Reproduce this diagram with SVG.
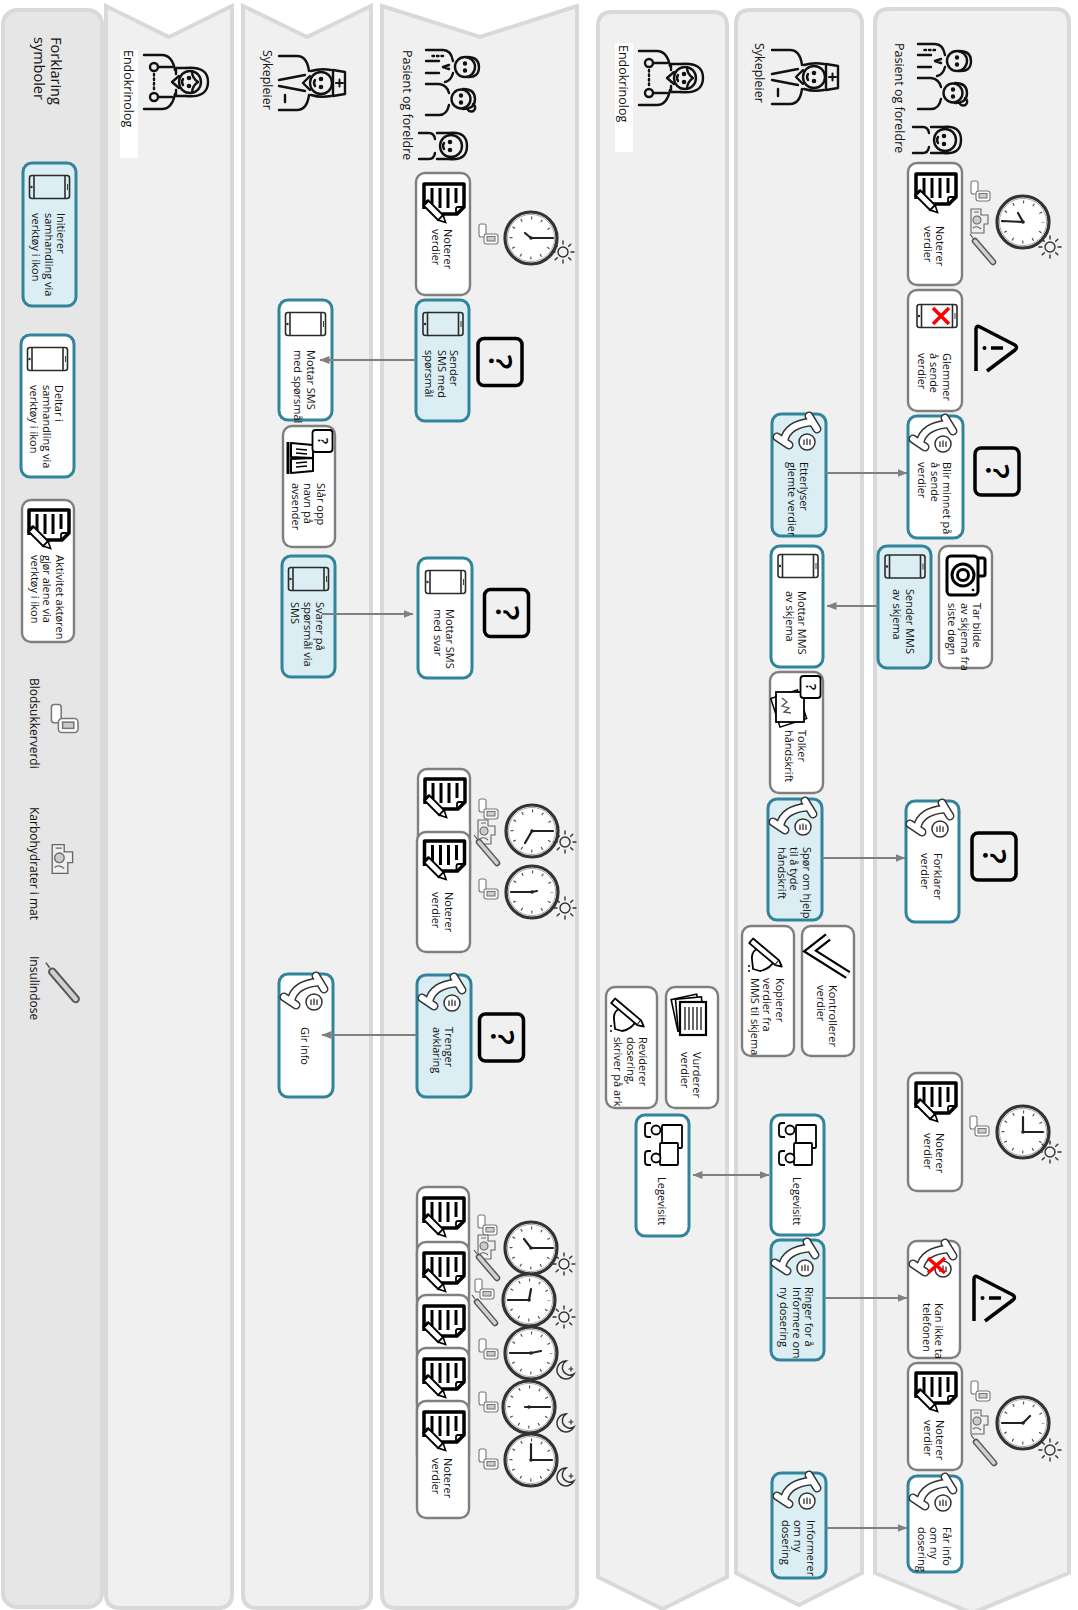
<svg xmlns="http://www.w3.org/2000/svg" width="1078" height="1610" viewBox="0 0 1078 1610">
<style>
  .lane{fill:#f0f0f0;stroke:#d9d9d9;stroke-width:4}
  .leg{fill:#e6e6e6;stroke:#d9d9d9;stroke-width:4}
  .box{fill:#fff;stroke:#7f7f7f;stroke-width:2.4}
  .part{fill:#fff;stroke:#31849b;stroke-width:3}
  .init{fill:#daeef3;stroke:#31849b;stroke-width:3}
  .t{font-family:"Open Sans","Liberation Sans",sans-serif;font-size:11px;fill:#111}
  .hd{font-family:"Open Sans","Liberation Sans",sans-serif;font-size:12.5px;fill:#111}
  .ttl{font-family:"Open Sans","Liberation Sans",sans-serif;font-size:14.5px;fill:#111}
  .lg{font-family:"Open Sans","Liberation Sans",sans-serif;font-size:12px;fill:#111}
  .qm{font-family:"Open Sans","Liberation Sans",sans-serif;font-weight:600;fill:#000;text-anchor:middle}
  .conn{fill:none;stroke:#808080;stroke-width:2}
  .ln{fill:none;stroke:#111;stroke-width:2.4;stroke-linecap:round;stroke-linejoin:round}
  .hand{fill:none;stroke:#222;stroke-width:2.2;stroke-linecap:round}
</style>
<defs>
  <marker id="ah" viewBox="0 0 10 10" refX="9.5" refY="5" markerWidth="10" markerHeight="10" markerUnits="userSpaceOnUse" orient="auto-start-reverse">
    <path d="M0,1 L10,5 L0,9 Z" fill="#808080"/>
  </marker>

  <!-- smartphone, lying on its side -->
  <g id="i-phone" fill="none" stroke="#2b2b2b" stroke-width="1.6">
    <rect x="-20" y="-11.5" width="40" height="23" rx="2.5"/>
    <path d="M-15.5,-11.5V11.5M15.5,-11.5V11.5"/>
    <circle cx="-18" cy="0" r="1.2" fill="#2b2b2b" stroke="none"/>
    <path d="M18,-3V3" stroke-width="0.9"/>
  </g>

  <!-- note sheet with pencil -->
  <g id="i-note">
    <path d="M-19,6 V-19 H21 V4 L14,11 H-2" fill="#fff" stroke="#000" stroke-width="3.5" stroke-linejoin="round"/>
    <path d="M21,4 H15 Q13,4 13,6 V11" fill="none" stroke="#000" stroke-width="1.8"/>
    <path d="M-11,-15V1M-3,-15V5M5,-15V5M13,-15V0" stroke="#000" stroke-width="3"/>
    <g transform="translate(-8,9) rotate(45)">
      <rect x="-13" y="-3.5" width="21" height="7" fill="#fff" stroke="#000" stroke-width="2"/>
      <path d="M8,-3.5 L15,0 L8,3.5Z" fill="#fff" stroke="#000" stroke-width="1.6"/>
      <path d="M-13,-3.5v7" stroke="#000" stroke-width="3"/>
    </g>
  </g>

  <!-- telephone handset with speech bubble -->
  <g id="i-handset">
    <path d="M-15,6 Q-12,-11 13,-13 M10,-19 L18,-6 M-22,2 L-10,10" fill="none" stroke="#333" stroke-width="9" stroke-linecap="round"/>
    <path d="M-15,6 Q-12,-11 13,-13 M10,-19 L18,-6 M-22,2 L-10,10" fill="none" stroke="#fff" stroke-width="6" stroke-linecap="round"/>
    <circle cx="8" cy="7" r="8" fill="#fff" stroke="#333" stroke-width="1.5"/>
    <path d="M5,4.5V10M8,3.5V10M11,4.5V10" stroke="#333" stroke-width="1.3"/>
  </g>

  <g id="i-phoneX">
    <use href="#i-phone"/>
    <path d="M-4,-8 L12,8 M12,-8 L-4,8" stroke="#f00" stroke-width="3.5"/>
  </g>
  <g id="i-handsetX">
    <use href="#i-handset"/>
    <path d="M-7,-4 L10,11 M10,-4 L-7,11" stroke="#f00" stroke-width="3.5"/>
  </g>

  <!-- question box -->
  <g id="i-q">
    <rect x="-22" y="-23.5" width="44" height="47" rx="6" fill="none" stroke="#000" stroke-width="3.5"/>
    <text class="qm" transform="rotate(90)" x="0" y="11" font-size="32">?</text>
  </g>
  <g id="i-qs">
    <rect x="-10" y="-11" width="20" height="22" rx="3" fill="#fff" stroke="#000" stroke-width="1.8"/>
    <text class="qm" transform="rotate(90)" x="0" y="5" font-size="14">?</text>
  </g>

  <!-- warning triangle, origin at its top-left corner -->
  <g id="i-warn" fill="none" stroke="#000" stroke-width="3.5" stroke-linejoin="round">
    <path d="M1,46 V4 Q1,0 5,2 L40,20 Q43,22.5 40,25 L12,46"/>
    <path d="M16,23 H28"/>
    <circle cx="9.5" cy="23" r="2" fill="#000" stroke="none"/>
  </g>

  <!-- clock face -->
  <g id="i-clock">
    <circle r="26" fill="#fff" stroke="#333" stroke-width="3.2"/>
    <circle r="23.6" fill="none" stroke="#aaa" stroke-width="1"/>
    <circle r="20" fill="none" stroke="#555" stroke-width="3" stroke-dasharray="1.2 9.272" stroke-dashoffset="0.6"/>
    <circle r="1.8" fill="#222"/>
  </g>
  <g id="i-sun" fill="none" stroke="#333" stroke-width="1.4" stroke-linecap="round">
    <circle r="5"/>
    <path d="M0,-8V-11M0,8V11M-8,0H-11M8,0H11M5.7,-5.7L7.8,-7.8M-5.7,5.7L-7.8,7.8M5.7,5.7L7.8,7.8M-5.7,-5.7L-7.8,-7.8"/>
  </g>
  <g id="i-moon" fill="none" stroke="#333" stroke-width="1.5">
    <path d="M2,-9 A9,9 0 1 0 10,4 A7,7 0 0 1 2,-9 Z"/>
    <path d="M7,-3.5V1.5M4.5,-1H9.5" stroke-width="1.2"/>
  </g>

  <!-- small measurement symbols -->
  <g id="i-bs" stroke="#777" stroke-width="1.1" fill="#fff">
    <rect x="-9" y="-11" width="7" height="13" rx="2"/>
    <rect x="-4" y="-1" width="14" height="10" rx="2.5"/>
    <rect x="-1" y="1.5" width="8" height="4.5" fill="#ccc"/>
  </g>
  <g id="i-fd" stroke="#666" stroke-width="1.1">
    <path d="M-9,-12 H1 V-6 H8 V3 H4 V12 H-9 Z" fill="#eee"/>
    <circle cx="-3" cy="-1" r="4" fill="#ccc"/>
    <path d="M-7,7 Q-3,4 1,8 M-6,-9 H-1" fill="none"/>
  </g>
  <g id="i-ins">
    <path d="M-9,-11 L9,10" stroke="#555" stroke-width="6.5" stroke-linecap="round"/>
    <path d="M-9,-11 L9,10" stroke="#d0d0d0" stroke-width="3.5" stroke-linecap="round"/>
    <path d="M-11,-14 L-14,-18" stroke="#555" stroke-width="1.2"/>
  </g>

  <!-- activity symbols -->
  <g id="i-book" fill="#fff" stroke="#000" stroke-width="2" stroke-linejoin="round">
    <path d="M-11,-1 L-11,-15 L11,-13 L11,0 Z"/>
    <path d="M-11,1 L-11,15 L11,13 L11,0 Z"/>
    <path d="M-6,-9 L5,-8 M-6,-5 L5,-4 M-6,5 L5,4 M-6,9 L5,8" stroke-width="1.5"/>
    <path d="M-14,-16 V16" stroke-width="3"/>
  </g>
  <g id="i-sheets">
    <rect x="-16" y="-13" width="28" height="30" fill="#fff" stroke="#000" stroke-width="1.5" transform="rotate(-18)"/>
    <rect x="-14" y="-14" width="28" height="30" fill="#fff" stroke="#000" stroke-width="1.8"/>
    <path d="M-8,-8 l5,4 l-5,4 l7,2 l-5,4 l7,1" fill="none" stroke="#555" stroke-width="1.3"/>
  </g>
  <g id="i-camera" fill="none" stroke="#000" stroke-width="3" stroke-linejoin="round">
    <rect x="-19" y="-20" width="31" height="39" rx="4"/>
    <path d="M12,-18 H17 Q19,-18 19,-16 V-2 Q19,0 17,0 H12"/>
    <circle cx="-3" cy="-1" r="11"/>
    <circle cx="-3" cy="-1" r="5.5"/>
    <circle cx="7" cy="14" r="1.3" fill="#000" stroke="none"/>
  </g>
  <g id="i-check" fill="none">
    <path d="M0,-19 L-18,-5 L20,19" stroke="#000" stroke-width="9"/>
    <path d="M0,-19 L-18,-5 L20,19" stroke="#fff" stroke-width="4.5"/>
  </g>
  <g id="i-handpen" fill="#fff" stroke="#000" stroke-width="1.8" stroke-linejoin="round">
    <path d="M-16,4 Q-17,-4 -9,-7 L-1,-3 L6,6 Q2,14 -8,16 L-15,14 Z"/>
    <g transform="rotate(40)"><rect x="-22" y="-3" width="34" height="6"/><path d="M12,-3 L18,0 L12,3"/></g>
    <path d="M-19,10 v2 M-19,15 v2" stroke-width="1.5"/>
  </g>
  <g id="i-stack" fill="#fff" stroke="#000" stroke-width="1.6">
    <rect x="-15" y="-20" width="26" height="32" transform="rotate(-12)"/>
    <rect x="-13" y="-18" width="26" height="32" transform="rotate(-5)"/>
    <rect x="-10" y="-14" width="26" height="33" stroke-width="2.2"/>
    <path d="M-5,-9V14M-1,-9V14M3,-9V14M7,-9V14M11,-9V14" stroke-width="1.2"/>
  </g>
  <g id="i-meet" fill="#fff" stroke="#000" stroke-width="1.8" stroke-linejoin="round">
    <rect x="-1" y="-20" width="20" height="23" rx="1"/>
    <rect x="-3" y="-2" width="18" height="22" rx="1"/>
    <circle cx="-7" cy="-15" r="4.5"/>
    <path d="M-12,-22 H-15 Q-18,-22 -18,-19 V-11 Q-18,-8 -15,-8 H-12" fill="none"/>
    <circle cx="-7" cy="13" r="4.5"/>
    <path d="M-12,6 H-15 Q-18,6 -18,9 V17 Q-18,20 -15,20 H-12" fill="none"/>
  </g>

  <!-- role figures (upright; placed turned) -->
  <g id="i-doctor" class="ln">
    <path d="M-14,-8 Q-16,-30 0,-30 Q16,-30 14,-8"/>
    <circle cx="0" cy="-12" r="11"/>
    <path d="M-11,-14 Q-4,-14 0,-20 Q4,-14 11,-14"/>
    <path d="M-14,-8 V2 H-8 M14,-8 V2 H8"/>
    <circle cx="-4" cy="-11" r="1.1" fill="#111"/><circle cx="4" cy="-11" r="1.1" fill="#111"/>
    <path d="M-3,-5 Q0,-3 3,-5"/>
    <path d="M-6,-1 L0,6 L6,-1"/>
    <path d="M-27,34 V16 Q-27,6 -12,3 M27,34 V16 Q27,6 12,3"/>
    <path d="M-15,6 V20 M15,6 V20"/>
    <circle cx="-15" cy="24" r="4"/><circle cx="15" cy="24" r="4"/>
    <path d="M-8,24 H8" stroke-dasharray="1.5 3"/>
  </g>
  <g id="i-nurse" class="ln">
    <path d="M-13,-20 L-11,-32 H11 L13,-20 Z"/>
    <path d="M0,-30 V-23 M-3.5,-26.5 H3.5" stroke-width="2"/>
    <circle cx="0" cy="-8" r="11"/>
    <path d="M-13,-18 Q-15,-8 -12,2 M13,-18 Q15,-8 12,2"/>
    <circle cx="-4" cy="-8" r="1.1" fill="#111"/><circle cx="4" cy="-8" r="1.1" fill="#111"/>
    <path d="M-3,-2 Q0,0 3,-2"/>
    <path d="M-7,3 L0,10 L7,3"/>
    <path d="M-27,34 V16 Q-27,6 -12,4 M27,34 V16 Q27,6 12,4"/>
    <path d="M-8,8 L-3,34 M8,8 L3,34"/>
    <path d="M12,28 H19"/>
  </g>
  <g id="i-family" class="ln">
    <circle cx="-16" cy="-12" r="10"/>
    <path d="M-26,-14 Q-26,-26 -16,-26 Q-5,-26 -6,-14"/>
    <circle cx="-19.5" cy="-12" r="1" fill="#111"/><circle cx="-12.5" cy="-12" r="1" fill="#111"/>
    <circle cx="16" cy="-8" r="9.5"/>
    <path d="M6,-10 Q6,-22 16,-22 Q26,-22 26,-10 M21,-20 a4,4 0 1 1 6,5"/>
    <circle cx="12.5" cy="-8" r="1" fill="#111"/><circle cx="19.5" cy="-8" r="1" fill="#111"/>
    <path d="M-33,27 V10 Q-33,2 -22,0 M-10,0 Q-2,2 -1,8"/>
    <path d="M1,27 V14 Q2,6 10,4 M22,4 Q32,6 32,14 V27"/>
    <path d="M-22,27 V14 M-10,27 V14 M-18,4 L-16,10 L-14,4"/>
    <path d="M-27,10 V22" stroke-dasharray="1.5 3"/>
  </g>
  <g id="i-child" class="ln">
    <circle cx="0" cy="-6" r="11"/>
    <path d="M-13,-4 Q-15,-22 0,-22 Q15,-22 13,-4 V8 M-13,-4 V8"/>
    <circle cx="-4" cy="-5" r="1.1" fill="#111"/><circle cx="4" cy="-5" r="1.1" fill="#111"/>
    <path d="M-3,1 Q0,3 3,1"/>
    <path d="M-13,26 V16 Q-13,11 -7,10 M13,26 V16 Q13,11 7,10"/>
  </g>
</defs>

<rect width="1078" height="1610" fill="#fff"/>

<!-- swimlanes -->
<g id="lanes">
  <rect class="leg" x="3" y="10" width="99" height="1597" rx="14"/>
  <path class="lane" d="M106,6 L169,37 L232,6 V1594 Q232,1608 218,1608 H120 Q106,1608 106,1594 Z"/>
  <path class="lane" d="M243,6 L307,37 L371,6 V1594 Q371,1608 357,1608 H257 Q243,1608 243,1594 Z"/>
  <path class="lane" d="M382,6 L480,37 L577,6 V1594 Q577,1608 563,1608 H396 Q382,1608 382,1594 Z"/>
  <path class="lane" d="M598,26 Q598,12 612,12 H713 Q727,12 727,26 V1577 L662.5,1609 L598,1577 Z"/>
  <path class="lane" d="M736,24 Q736,10 750,10 H848 Q862,10 862,24 V1573 L799,1605 L736,1573 Z"/>
  <path class="lane" d="M875,23 Q875,9 889,9 H1055 Q1069,9 1069,23 V1573 L972,1613 L875,1573 Z"/>
</g>

<!-- lane headers -->
<g id="headers">
  <text class="ttl" transform="translate(51,37) rotate(90)">Forklaring</text>
  <text class="ttl" transform="translate(34,37) rotate(90)">symboler</text>

  <rect x="120" y="50" width="18" height="108" fill="#fff"/>
  <text class="hd" transform="translate(124,50) rotate(90)">Endokrinolog</text>
  <use href="#i-doctor" transform="translate(178,82) rotate(90)"/>

  <text class="hd" transform="translate(263,50) rotate(90)">Sykepleier</text>
  <use href="#i-nurse" transform="translate(313,83) rotate(90)"/>

  <text class="hd" transform="translate(403,50) rotate(90)">Pasient og foreldre</text>
  <use href="#i-family" transform="translate(453,83) rotate(90)"/>
  <use href="#i-child" transform="translate(445,146) rotate(90)"/>

  <rect x="615" y="43" width="18" height="109" fill="#fff"/>
  <text class="hd" transform="translate(619,45) rotate(90)">Endokrinolog</text>
  <use href="#i-doctor" transform="translate(673,78) rotate(90)"/>

  <text class="hd" transform="translate(755,43) rotate(90)">Sykepleier</text>
  <use href="#i-nurse" transform="translate(806,77) rotate(90)"/>

  <text class="hd" transform="translate(895,43) rotate(90)">Pasient og foreldre</text>
  <use href="#i-family" transform="translate(945,77) rotate(90)"/>
  <use href="#i-child" transform="translate(939,140) rotate(90)"/>
</g>

<!-- legend -->
<g id="legend">
  <g id="leg-init">
    <g transform="translate(49.5,163) rotate(90)">
      <rect class="init" x="0" y="-26.5" width="143" height="53" rx="9"/>
      <text class="t"><tspan x="50" y="-7.5">Initierer</tspan><tspan x="50" y="5">samhandling via</tspan><tspan x="50" y="17.5">verktøy i ikon</tspan></text>
    </g>
    <use href="#i-phone" x="49.5" y="187"/>
  </g>
  <g id="leg-part">
    <g transform="translate(47.5,335) rotate(90)">
      <rect class="part" x="0" y="-26.5" width="142" height="53" rx="9"/>
      <text class="t"><tspan x="50" y="-7.5">Deltar i</tspan><tspan x="50" y="5">samhandling via</tspan><tspan x="50" y="17.5">verktøy i ikon</tspan></text>
    </g>
    <use href="#i-phone" x="47.5" y="359"/>
  </g>
  <g id="leg-alone">
    <g transform="translate(48,500) rotate(90)">
      <rect class="box" x="0" y="-26" width="142" height="52" rx="9"/>
      <text class="t"><tspan x="55" y="-7.5">Aktivitet aktøren</tspan><tspan x="55" y="5">gjør alene via</tspan><tspan x="55" y="17.5">verktøy i ikon</tspan></text>
    </g>
    <use href="#i-note" x="48" y="529"/>
  </g>
  <g id="leg-bs">
    <text class="lg" transform="translate(30,678) rotate(90)">Blodsukkerverdi</text>
    <use href="#i-bs" transform="translate(64,720) scale(1.4)"/>
  </g>
  <g id="leg-fd">
    <text class="lg" transform="translate(30,807) rotate(90)">Karbohydrater i mat</text>
    <use href="#i-fd" transform="translate(63,859) scale(1.2)"/>
  </g>
  <g id="leg-ins">
    <text class="lg" transform="translate(30,956) rotate(90)">Insulindose</text>
    <use href="#i-ins" transform="translate(64,986) scale(1.3)"/>
  </g>
</g>

<!-- nurse, first phase -->
<g id="n-mottar-sms">
  <g transform="translate(305.5,300) rotate(90)">
    <rect class="part" x="0" y="-26.5" width="120" height="53" rx="9"/>
    <text class="t"><tspan x="50" y="-1.25">Mottar SMS</tspan><tspan x="50" y="11.25">med spørsmål</tspan></text>
  </g>
  <use href="#i-phone" x="305.5" y="324"/>
</g>
<g id="n-slar-opp">
  <g transform="translate(309,426) rotate(90)">
    <rect class="box" x="0" y="-26" width="121" height="52" rx="9"/>
    <text class="t"><tspan x="57" y="-7.5">Slår opp</tspan><tspan x="57" y="5">navn på</tspan><tspan x="57" y="17.5">avsender</tspan></text>
  </g>
  <use href="#i-book" x="302" y="458"/>
  <use href="#i-qs" x="322.5" y="441"/>
</g>
<g id="n-svarer">
  <g transform="translate(308.5,556) rotate(90)">
    <rect class="init" x="0" y="-26.5" width="121" height="53" rx="9"/>
    <text class="t"><tspan x="46" y="-7.5">Svarer på</tspan><tspan x="46" y="5">spørsmål via</tspan><tspan x="46" y="17.5">SMS</tspan></text>
  </g>
  <use href="#i-phone" x="308.5" y="579"/>
</g>
<g id="n-gir-info">
  <g transform="translate(306,974) rotate(90)">
    <rect class="part" x="0" y="-27" width="123" height="54" rx="9"/>
    <text class="t"><tspan x="53" y="5">Gir info</tspan></text>
  </g>
  <use href="#i-handset" x="306" y="995"/>
</g>

<!-- patient, first phase -->
<g id="n-noterer-1">
  <g transform="translate(443,173) rotate(90)">
    <rect class="box" x="0" y="-27" width="122" height="54" rx="9"/>
    <text class="t"><tspan x="56" y="-1.25">Noterer</tspan><tspan x="56" y="11.25">verdier</tspan></text>
  </g>
  <use href="#i-note" x="443" y="203"/>
  <use href="#i-bs" x="488" y="235"/>
  <g transform="translate(531,238)"><use href="#i-clock"/><path class="hand" d="M0,0H22M0,0L-6,-5"/></g>
  <use href="#i-sun" x="563" y="252"/>
</g>
<g id="n-sender-sms">
  <g transform="translate(442.5,300) rotate(90)">
    <rect class="init" x="0" y="-26.5" width="121" height="53" rx="9"/>
    <text class="t"><tspan x="50" y="-7.5">Sender</tspan><tspan x="50" y="5">SMS med</tspan><tspan x="50" y="17.5">spørsmål</tspan></text>
  </g>
  <use href="#i-phone" x="443" y="324"/>
  <use href="#i-q" x="500" y="362"/>
</g>
<g id="n-mottar-svar">
  <g transform="translate(445,558) rotate(90)">
    <rect class="part" x="0" y="-27" width="120" height="54" rx="9"/>
    <text class="t"><tspan x="51" y="-1.25">Mottar SMS</tspan><tspan x="51" y="11.25">med svar</tspan></text>
  </g>
  <use href="#i-phone" x="445.5" y="582"/>
  <use href="#i-q" x="506.5" y="613"/>
</g>
<g id="n-noterer-2a">
  <g transform="translate(444,769) rotate(90)">
    <rect class="box" x="0" y="-26" width="120" height="52" rx="9"/>
  </g>
  <use href="#i-note" x="444" y="798"/>
  <use href="#i-bs" x="488" y="810"/>
  <use href="#i-fd" x="487" y="832"/>
  <use href="#i-ins" x="488" y="853"/>
  <g transform="translate(532,831)"><use href="#i-clock"/><path class="hand" d="M0,0H21M0,0L-7,12"/></g>
  <use href="#i-sun" x="565" y="842"/>
</g>
<g id="n-noterer-2b">
  <g transform="translate(443.5,832) rotate(90)">
    <rect class="box" x="0" y="-26.5" width="120" height="53" rx="9"/>
    <text class="t"><tspan x="60" y="-1.25">Noterer</tspan><tspan x="60" y="11.25">verdier</tspan></text>
  </g>
  <use href="#i-note" x="443.5" y="860"/>
  <use href="#i-bs" x="488" y="890"/>
  <g transform="translate(532,892)"><use href="#i-clock"/><path class="hand" d="M0,0H-21M0,0L5,-1"/></g>
  <use href="#i-sun" x="565" y="908"/>
</g>
<g id="n-trenger">
  <g transform="translate(444,975) rotate(90)">
    <rect class="init" x="0" y="-27" width="122" height="54" rx="9"/>
    <text class="t"><tspan x="52" y="-1.25">Trenger</tspan><tspan x="52" y="11.25">avklaring</tspan></text>
  </g>
  <use href="#i-handset" x="444" y="996"/>
  <use href="#i-q" x="501.5" y="1037.5"/>
</g>

<!-- patient, day log -->
<g id="n-noterer-3">
  <g transform="translate(443,1187) rotate(90)"><rect class="box" x="0" y="-26" width="117" height="52" rx="9"/></g>
  <use href="#i-note" x="443" y="1217"/>
  <g transform="translate(443,1242) rotate(90)"><rect class="box" x="0" y="-26" width="117" height="52" rx="9"/></g>
  <use href="#i-note" x="443" y="1272"/>
  <g transform="translate(443,1295) rotate(90)"><rect class="box" x="0" y="-26" width="117" height="52" rx="9"/></g>
  <use href="#i-note" x="443" y="1325"/>
  <g transform="translate(443,1348) rotate(90)"><rect class="box" x="0" y="-26" width="117" height="52" rx="9"/></g>
  <use href="#i-note" x="443" y="1378"/>
  <g transform="translate(443,1401) rotate(90)">
    <rect class="box" x="0" y="-26" width="117" height="52" rx="9"/>
    <text class="t"><tspan x="57" y="-1.25">Noterer</tspan><tspan x="57" y="11.25">verdier</tspan></text>
  </g>
  <use href="#i-note" x="443" y="1431"/>

  <use href="#i-bs" x="487" y="1226"/>
  <use href="#i-fd" x="487" y="1247"/>
  <use href="#i-ins" x="488" y="1268"/>
  <use href="#i-bs" x="484" y="1290"/>
  <use href="#i-ins" x="486" y="1313"/>
  <use href="#i-bs" x="488" y="1350"/>
  <use href="#i-bs" x="488" y="1403"/>
  <use href="#i-bs" x="488" y="1460"/>

  <g transform="translate(531,1248)"><use href="#i-clock"/><path class="hand" d="M0,0H22M0,0L-7,-9"/></g>
  <g transform="translate(529,1300)"><use href="#i-clock"/><path class="hand" d="M0,0H-21M0,0L2,-11"/></g>
  <g transform="translate(531,1353)"><use href="#i-clock"/><path class="hand" d="M0,0H-21M0,0L10,-2"/></g>
  <g transform="translate(529,1407)"><use href="#i-clock"/><path class="hand" d="M0,0H21M0,0H-4"/></g>
  <g transform="translate(531,1460)"><use href="#i-clock"/><path class="hand" d="M0,0H21M0,0V-16"/></g>
  <use href="#i-sun" x="564" y="1264"/>
  <use href="#i-sun" x="564" y="1317"/>
  <use href="#i-moon" x="564" y="1370"/>
  <use href="#i-moon" x="564" y="1423"/>
  <use href="#i-moon" x="564" y="1477"/>
</g>

<!-- endocrinologist, second phase -->
<g id="n-reviderer">
  <g transform="translate(631.5,987) rotate(90)">
    <rect class="box" x="0" y="-25.5" width="121" height="51" rx="9"/>
    <text class="t"><tspan x="50" y="-7.5">Reviderer</tspan><tspan x="50" y="5">dosering,</tspan><tspan x="50" y="17.5">skriver på ark</tspan></text>
  </g>
  <use href="#i-handpen" x="630" y="1015"/>
</g>
<g id="n-vurderer">
  <g transform="translate(692,987) rotate(90)">
    <rect class="box" x="0" y="-26" width="121" height="52" rx="9"/>
    <text class="t"><tspan x="65" y="-1.25">Vurderer</tspan><tspan x="65" y="11.25">verdier</tspan></text>
  </g>
  <use href="#i-stack" x="690" y="1016"/>
</g>
<g id="n-legevisitt-endo">
  <g transform="translate(662.5,1115) rotate(90)">
    <rect class="part" x="0" y="-26.5" width="121" height="53" rx="9"/>
    <text class="t"><tspan x="62" y="5">Legevisitt</tspan></text>
  </g>
  <use href="#i-meet" x="663" y="1145"/>
</g>

<!-- nurse, second phase -->
<g id="n-etterlyser">
  <g transform="translate(799,414) rotate(90)">
    <rect class="init" x="0" y="-27" width="122" height="54" rx="9"/>
    <text class="t"><tspan x="48" y="-1.25">Etterlyser</tspan><tspan x="48" y="11.25">glemte verdier</tspan></text>
  </g>
  <use href="#i-handset" x="799" y="435"/>
</g>
<g id="n-mottar-mms">
  <g transform="translate(797,546) rotate(90)">
    <rect class="part" x="0" y="-26" width="121" height="52" rx="9"/>
    <text class="t"><tspan x="45" y="-1.25">Mottar MMS</tspan><tspan x="45" y="11.25">av skjema</tspan></text>
  </g>
  <use href="#i-phone" x="798" y="566"/>
</g>
<g id="n-tolker">
  <g transform="translate(796.5,672) rotate(90)">
    <rect class="box" x="0" y="-26.5" width="121" height="53" rx="9"/>
    <text class="t"><tspan x="58" y="-1.25">Tolker</tspan><tspan x="58" y="11.25">håndskrift</tspan></text>
  </g>
  <use href="#i-sheets" x="790" y="706"/>
  <use href="#i-qs" x="810.5" y="687"/>
</g>
<g id="n-spor">
  <g transform="translate(795,799) rotate(90)">
    <rect class="init" x="0" y="-27" width="121" height="54" rx="9"/>
    <text class="t"><tspan x="48" y="-7.5">Spør om hjelp</tspan><tspan x="48" y="5">til å tyde</tspan><tspan x="48" y="17.5">håndskrift</tspan></text>
  </g>
  <use href="#i-handset" x="795" y="820"/>
</g>
<g id="n-kopierer">
  <g transform="translate(768,926) rotate(90)">
    <rect class="box" x="0" y="-26" width="130" height="52" rx="9"/>
    <text class="t"><tspan x="52" y="-7.5">Kopierer</tspan><tspan x="52" y="5">verdier fra</tspan><tspan x="52" y="17.5">MMS til skjema</tspan></text>
  </g>
  <use href="#i-handpen" x="768" y="955"/>
</g>
<g id="n-kontrollerer">
  <g transform="translate(828,926) rotate(90)">
    <rect class="box" x="0" y="-26" width="130" height="52" rx="9"/>
    <text class="t"><tspan x="59" y="-1.25">Kontrollerer</tspan><tspan x="59" y="11.25">verdier</tspan></text>
  </g>
  <use href="#i-check" x="828" y="956"/>
</g>
<g id="n-legevisitt-syk">
  <g transform="translate(797.5,1115) rotate(90)">
    <rect class="part" x="0" y="-26.5" width="120" height="53" rx="9"/>
    <text class="t"><tspan x="62" y="5">Legevisitt</tspan></text>
  </g>
  <use href="#i-meet" x="797" y="1145"/>
</g>
<g id="n-ringer">
  <g transform="translate(797.5,1240) rotate(90)">
    <rect class="init" x="0" y="-26.5" width="120" height="53" rx="9"/>
    <text class="t"><tspan x="47" y="-7.5">Ringer for å</tspan><tspan x="47" y="5">Informere om</tspan><tspan x="47" y="17.5">ny dosering</tspan></text>
  </g>
  <use href="#i-handset" x="797" y="1261"/>
</g>
<g id="n-informerer">
  <g transform="translate(799,1473) rotate(90)">
    <rect class="init" x="0" y="-27" width="105" height="54" rx="9"/>
    <text class="t"><tspan x="47" y="-7.5">Informerer</tspan><tspan x="47" y="5">om ny</tspan><tspan x="47" y="17.5">dosering</tspan></text>
  </g>
  <use href="#i-handset" x="799" y="1494"/>
</g>

<!-- patient, second phase -->
<g id="n-noterer-r1">
  <g transform="translate(935,163) rotate(90)">
    <rect class="box" x="0" y="-27" width="122" height="54" rx="9"/>
    <text class="t"><tspan x="63" y="-1.25">Noterer</tspan><tspan x="63" y="11.25">verdier</tspan></text>
  </g>
  <use href="#i-note" x="935" y="193"/>
  <use href="#i-bs" x="980" y="192"/>
  <use href="#i-fd" x="980" y="221"/>
  <use href="#i-ins" x="984" y="252"/>
  <g transform="translate(1023,222)"><use href="#i-clock"/><path class="hand" d="M0,0L-21,-1M0,0L-5,-9"/></g>
  <use href="#i-sun" x="1050" y="247"/>
</g>
<g id="n-glemmer">
  <g transform="translate(935,290) rotate(90)">
    <rect class="box" x="0" y="-27" width="121" height="54" rx="9"/>
    <text class="t"><tspan x="63" y="-7.5">Glemmer</tspan><tspan x="63" y="5">å sende</tspan><tspan x="63" y="17.5">verdier</tspan></text>
  </g>
  <use href="#i-phoneX" x="937" y="316"/>
  <use href="#i-warn" x="975" y="325"/>
</g>
<g id="n-blir-minnet">
  <g transform="translate(935.5,416) rotate(90)">
    <rect class="part" x="0" y="-27.5" width="122" height="55" rx="9"/>
    <text class="t"><tspan x="46" y="-7.5">Blir minnet på</tspan><tspan x="46" y="5">å sende</tspan><tspan x="46" y="17.5">verdier</tspan></text>
  </g>
  <use href="#i-handset" x="935" y="437"/>
  <use href="#i-q" x="997" y="471.5"/>
</g>
<g id="n-sender-mms">
  <g transform="translate(904.5,546) rotate(90)">
    <rect class="init" x="0" y="-26.5" width="122" height="53" rx="9"/>
    <text class="t"><tspan x="43" y="-1.25">Sender MMS</tspan><tspan x="43" y="11.25">av skjema</tspan></text>
  </g>
  <use href="#i-phone" x="905" y="566.5"/>
</g>
<g id="n-tar-bilde">
  <g transform="translate(965.5,546) rotate(90)">
    <rect class="box" x="0" y="-26.5" width="122" height="53" rx="9"/>
    <text class="t"><tspan x="57" y="-7.5">Tar bilde</tspan><tspan x="57" y="5">av skjema fra</tspan><tspan x="57" y="17.5">siste døgn</tspan></text>
  </g>
  <use href="#i-camera" x="966" y="576"/>
</g>
<g id="n-forklarer">
  <g transform="translate(932.5,801) rotate(90)">
    <rect class="part" x="0" y="-26.5" width="121" height="53" rx="9"/>
    <text class="t"><tspan x="52" y="-1.25">Forklarer</tspan><tspan x="52" y="11.25">verdier</tspan></text>
  </g>
  <use href="#i-handset" x="932" y="822"/>
  <use href="#i-q" x="994" y="856.5"/>
</g>
<g id="n-noterer-r2">
  <g transform="translate(935,1073) rotate(90)">
    <rect class="box" x="0" y="-27" width="118" height="54" rx="9"/>
    <text class="t"><tspan x="60" y="-1.25">Noterer</tspan><tspan x="60" y="11.25">verdier</tspan></text>
  </g>
  <use href="#i-note" x="935" y="1102"/>
  <use href="#i-bs" x="979" y="1127"/>
  <g transform="translate(1023,1132)"><use href="#i-clock"/><path class="hand" d="M0,0H20M0,0V-15"/></g>
  <use href="#i-sun" x="1050" y="1152"/>
</g>
<g id="n-kan-ikke">
  <g transform="translate(934,1241) rotate(90)">
    <rect class="box" x="0" y="-26" width="117" height="52" rx="9"/>
    <text class="t"><tspan x="62" y="-1.25">Kan ikke ta</tspan><tspan x="62" y="11.25">telefonen</tspan></text>
  </g>
  <use href="#i-handsetX" x="935" y="1262"/>
  <use href="#i-warn" x="973" y="1275"/>
</g>
<g id="n-noterer-r3">
  <g transform="translate(935,1363) rotate(90)">
    <rect class="box" x="0" y="-27" width="107" height="54" rx="9"/>
    <text class="t"><tspan x="57" y="-1.25">Noterer</tspan><tspan x="57" y="11.25">verdier</tspan></text>
  </g>
  <use href="#i-note" x="935" y="1392"/>
  <use href="#i-bs" x="980" y="1392"/>
  <use href="#i-fd" x="980" y="1422"/>
  <use href="#i-ins" x="985" y="1453"/>
  <g transform="translate(1023,1423)"><use href="#i-clock"/><path class="hand" d="M0,0H-21M0,0L7,-7"/></g>
  <use href="#i-sun" x="1050" y="1450"/>
</g>
<g id="n-far-info">
  <g transform="translate(935,1476) rotate(90)">
    <rect class="part" x="0" y="-27" width="96" height="54" rx="9"/>
    <text class="t"><tspan x="51" y="-7.5">Får info</tspan><tspan x="51" y="5">om ny</tspan><tspan x="51" y="17.5">dosering</tspan></text>
  </g>
  <use href="#i-handset" x="935" y="1496"/>
</g>

<!-- connectors -->
<g id="connectors" class="conn">
  <line x1="416" y1="360" x2="320" y2="360" marker-end="url(#ah)"/>
  <line x1="322" y1="614" x2="413" y2="614" marker-end="url(#ah)"/>
  <line x1="417" y1="1035" x2="322" y2="1035" marker-end="url(#ah)"/>
  <line x1="826" y1="473" x2="907" y2="473" marker-end="url(#ah)"/>
  <line x1="878" y1="606" x2="827" y2="606" marker-end="url(#ah)"/>
  <line x1="822" y1="858" x2="905" y2="858" marker-end="url(#ah)"/>
  <line x1="693" y1="1175" x2="769" y2="1175" marker-start="url(#ah)" marker-end="url(#ah)"/>
  <line x1="824" y1="1298" x2="907" y2="1298" marker-end="url(#ah)"/>
  <line x1="826" y1="1528" x2="907" y2="1528" marker-end="url(#ah)"/>
</g>
</svg>
